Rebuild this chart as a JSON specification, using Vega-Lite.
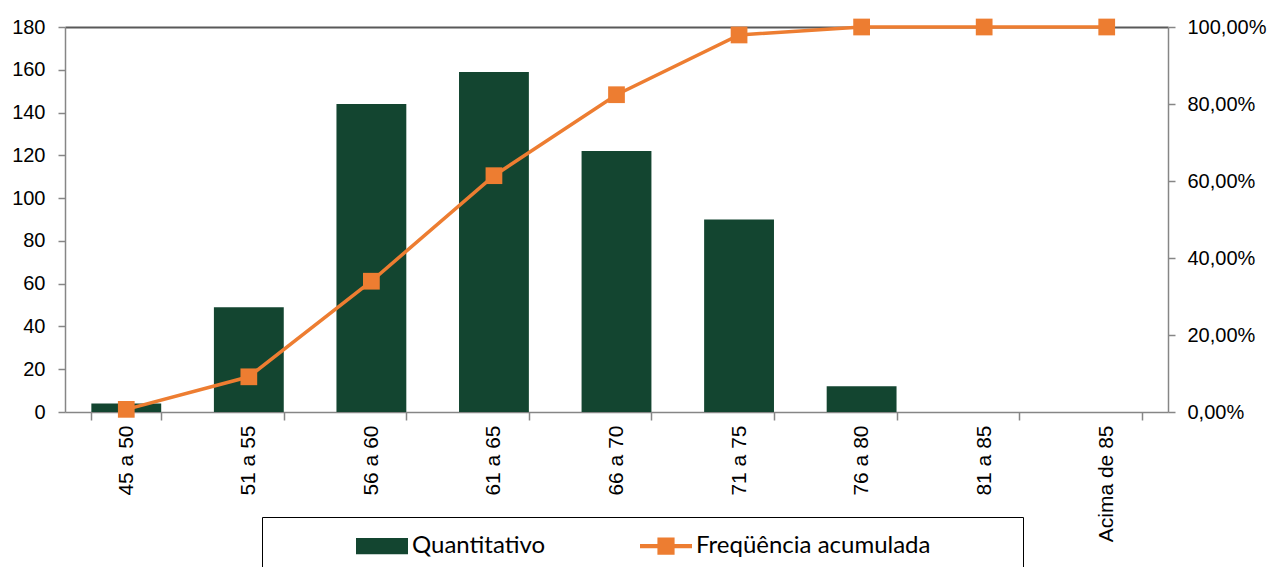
{
  "$schema": "https://vega.github.io/schema/vega-lite/v6.json",
  "autosize": {"type": "none"},
  "padding": {"left": 65, "top": 27, "right": 104, "bottom": 155},
  "width": 1103,
  "height": 385,
  "background": "white",
  "data": {
    "values": [
      {"faixa": "45 a 50", "quantidade": 4, "acumulada": 0.0069},
      {"faixa": "51 a 55", "quantidade": 49, "acumulada": 0.0914},
      {"faixa": "56 a 60", "quantidade": 144, "acumulada": 0.3397},
      {"faixa": "61 a 65", "quantidade": 159, "acumulada": 0.6138},
      {"faixa": "66 a 70", "quantidade": 122, "acumulada": 0.8241},
      {"faixa": "71 a 75", "quantidade": 90, "acumulada": 0.9793},
      {"faixa": "76 a 80", "quantidade": 12, "acumulada": 1.0},
      {"faixa": "81 a 85", "quantidade": 0, "acumulada": 1.0},
      {"faixa": "Acima de 85", "quantidade": 0, "acumulada": 1.0}
    ]
  },
  "encoding": {
    "x": {
      "field": "faixa",
      "type": "nominal",
      "sort": null,
      "title": null,
      "scale": {"paddingInner": 0.43, "paddingOuter": 0.215},
      "axis": {
        "labelAngle": -90,
        "labelFont": "Liberation Sans",
        "labelFontSize": 21,
        "labelColor": "#000000",
        "labelPadding": 5,
        "tickBand": "extent",
        "tickSize": 8,
        "tickColor": "#868686",
        "tickWidth": 1.5,
        "domainColor": "#868686",
        "domainWidth": 1.5
      }
    }
  },
  "layer": [
    {
      "mark": {"type": "bar"},
      "encoding": {
        "y": {
          "field": "quantidade",
          "type": "quantitative",
          "title": null,
          "scale": {"domain": [0, 180], "nice": false},
          "axis": {
            "orient": "left",
            "values": [0, 20, 40, 60, 80, 100, 120, 140, 160, 180],
            "labelFont": "Liberation Sans",
            "labelFontSize": 20,
            "labelColor": "#000000",
            "labelPadding": 13,
            "tickSize": 7,
            "tickColor": "#868686",
            "tickWidth": 1.5,
            "domainColor": "#868686",
            "domainWidth": 1.5,
            "grid": true,
            "gridColor": "#595959",
            "gridWidth": 2,
            "gridOpacity": {"condition": {"test": "datum.value === 180", "value": 1}, "value": 0}
          }
        },
        "color": {
          "datum": "Quantitativo",
          "type": "nominal",
          "scale": {"domain": ["Quantitativo", "Freqüência acumulada"], "range": ["#134530", "#ed7d31"]},
          "legend": {
            "title": "\u00a0",
            "titleOrient": "left",
            "titleFontSize": 1,
            "titlePadding": 91,
            "orient": "none",
            "legendX": 197,
            "legendY": 490,
            "direction": "horizontal",
            "padding": 3,
            "strokeColor": "#000000",
            "symbolSize": 2704,
            "symbolType": "M-1,-0.31H1V0.31H-1Z",
            "labelFont": "Lato",
            "labelFontSize": 24,
            "labelColor": "#000000",
            "labelOffset": 4,
            "labelLimit": 500,
            "columnPadding": 94,
            "encode": {
              "symbols": {
                "update": {
                  "shape": {"signal": "datum.value === 'Quantitativo' ? 'M-1,-0.31H1V0.31H-1Z M0,1.3h0.001' : 'M-1,-0.08H-0.33V-0.33H0.33V-0.08H1V0.08H0.33V0.33H-0.33V0.08H-1Z M13.6,1.3h0.001'"},
                  "fill": {"signal": "datum.value === 'Quantitativo' ? '#134530' : '#ed7d31'"},
                  "fillOpacity": {"value": 1},
                  "strokeWidth": {"value": 0},
                  "opacity": {"value": 1}
                }
              }
            }
          }
        }
      }
    },
    {
      "mark": {"type": "line", "strokeWidth": 3.5},
      "encoding": {
        "y": {
          "field": "acumulada",
          "type": "quantitative",
          "title": null,
          "scale": {"domain": [0, 1], "nice": false},
          "axis": {
            "orient": "right",
            "values": [0, 0.2, 0.4, 0.6, 0.8, 1.0],
            "labelExpr": "replace(format(datum.value, '.2%'), '.', ',')",
            "labelFont": "Liberation Sans",
            "labelFontSize": 20,
            "labelColor": "#000000",
            "labelPadding": 12,
            "tickSize": 7,
            "tickColor": "#868686",
            "tickWidth": 1.5,
            "domainColor": "#868686",
            "domainWidth": 1.5,
            "grid": false
          }
        },
        "color": {"datum": "Freqüência acumulada", "type": "nominal"}
      }
    },
    {
      "mark": {"type": "point", "shape": "square", "filled": true, "size": 280, "color": "#ed7d31", "opacity": 1},
      "encoding": {
        "y": {"field": "acumulada", "type": "quantitative", "axis": null, "scale": {"domain": [0, 1], "nice": false}}
      }
    }
  ],
  "resolve": {"scale": {"y": "independent"}},
  "config": {
    "view": {"stroke": null}
  }
}
